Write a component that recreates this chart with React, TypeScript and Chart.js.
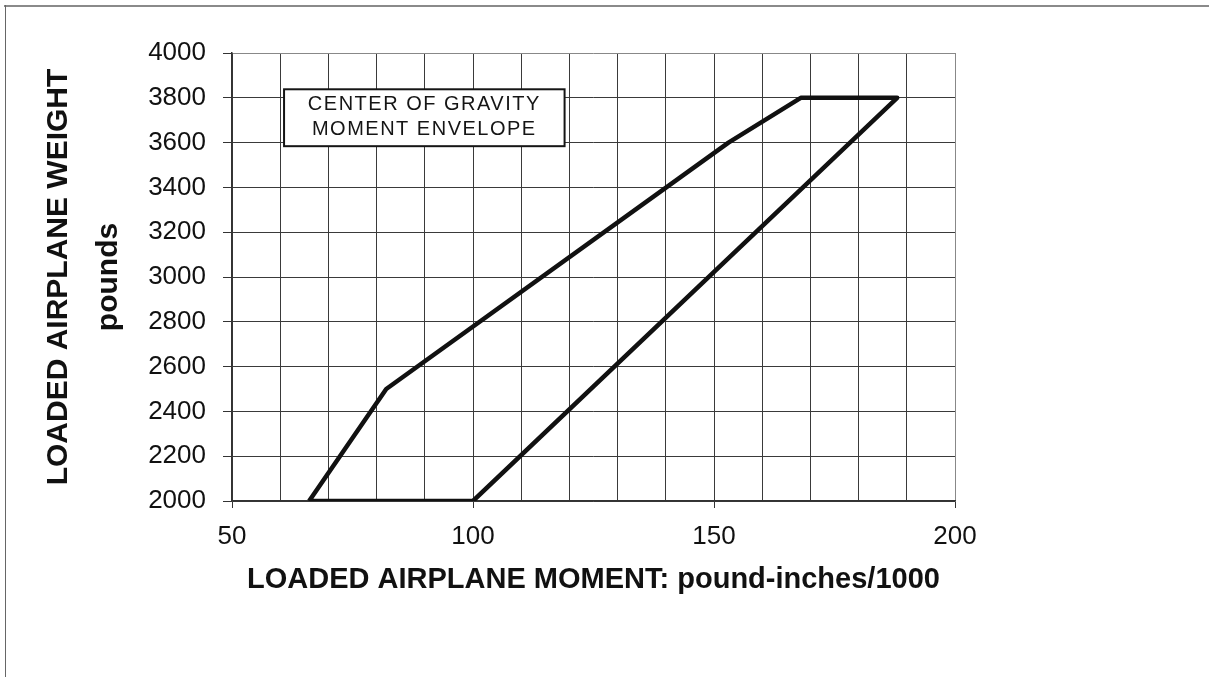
import React, { useEffect, useRef } from 'react';
import { Chart, registerables } from 'chart.js';

Chart.register(...registerables);

// ---- data ----
const envelopeMoment = [66, 82, 153, 168, 188, 100, 66];
const envelopeWeight = [2000, 2500, 3600, 3800, 3800, 2000, 2000];
const xLabelValues = [50, 100, 150, 200];
const yTickValues = [2000, 2200, 2400, 2600, 2800, 3000, 3200, 3400, 3600, 3800, 4000];
const noteLines = ['CENTER OF GRAVITY', 'MOMENT ENVELOPE'];
const xTitle = 'LOADED AIRPLANE MOMENT: pound-inches/1000';
const yTitle = ['LOADED AIRPLANE WEIGHT', 'pounds'];

const FONT = '"Liberation Sans", Arial, Helvetica, sans-serif';
const NOTE_BOX = { x0: 60.8, x1: 119, y0: 3838, y1: 3584 };

const notePlugin = {
  id: 'noteBox',
  afterDatasetsDraw(chart: any) {
    const { ctx, scales } = chart;
    const xs = scales.x;
    const ys = scales.y;
    const left = xs.getPixelForValue(NOTE_BOX.x0);
    const right = xs.getPixelForValue(NOTE_BOX.x1);
    const top = ys.getPixelForValue(NOTE_BOX.y0);
    const bottom = ys.getPixelForValue(NOTE_BOX.y1);
    ctx.save();
    ctx.fillStyle = '#ffffff';
    ctx.fillRect(left, top, right - left, bottom - top);
    ctx.strokeStyle = '#151515';
    ctx.lineWidth = 2;
    ctx.strokeRect(left, top, right - left, bottom - top);
    ctx.font = `20px ${FONT}`;
    try { (ctx as any).letterSpacing = '1.5px'; } catch (e) {}
    ctx.textAlign = 'center';
    ctx.textBaseline = 'middle';
    ctx.fillStyle = '#151515';
    const cx = (left + right) / 2;
    const h = bottom - top;
    const fr = [0.26, 0.7];
    noteLines.forEach((t, i) => ctx.fillText(t, cx, top + h * fr[i]));
    ctx.restore();
  },
};

export default function App() {
  const ref = useRef<HTMLCanvasElement | null>(null);

  useEffect(() => {
    if (!ref.current) return;
    const chart = new Chart(ref.current, {
      type: 'scatter',
      data: {
        datasets: [
          {
            data: envelopeMoment.map((m, i) => ({ x: m, y: envelopeWeight[i] })),
            showLine: true,
            borderColor: '#111111',
            borderWidth: 4.5,
            borderJoinStyle: 'round',
            pointRadius: 0,
            fill: false,
            tension: 0,
          } as any,
        ],
      },
      options: {
        responsive: false,
        animation: false,
        devicePixelRatio: 1,
        layout: { padding: { left: 0, top: 53, right: 254, bottom: 0 } },
        plugins: {
          legend: { display: false },
          tooltip: { enabled: false },
        },
        scales: {
          x: {
            type: 'linear',
            min: 50,
            max: 200,
            afterFit: (s: any) => { s.height = 176; },
            ticks: {
              stepSize: 10,
              autoSkip: false,
              maxRotation: 0,
              padding: 13,
              color: '#111',
              font: { family: FONT, size: 26 },
              callback: (v: any) => (xLabelValues.includes(Number(v)) ? String(v) : ''),
            },
            grid: {
              color: (c: any) => (c.tick && c.tick.value === 200 ? '#888' : '#3a3a3a'),
              lineWidth: 1,
              tickLength: 7,
              tickColor: (c: any) =>
                c.tick && xLabelValues.includes(c.tick.value) ? '#333' : 'rgba(0,0,0,0)',
            },
            border: { color: '#333', width: 1.5 },
            title: {
              display: true,
              text: xTitle,
              color: '#111',
              font: { family: FONT, size: 29, weight: 'bold' },
              padding: { top: 0, bottom: 80 },
            },
          },
          y: {
            type: 'linear',
            min: 2000,
            max: 4000,
            afterFit: (s: any) => { s.width = 232; },
            ticks: {
              stepSize: 200,
              padding: 17,
              color: '#111',
              font: { family: FONT, size: 26 },
              callback: (v: any) => (yTickValues.includes(Number(v)) ? String(v) : ''),
            },
            grid: {
              color: (c: any) => (c.tick && c.tick.value === 4000 ? '#888' : '#3a3a3a'),
              lineWidth: 1,
              tickLength: 9,
              tickColor: '#333',
            },
            border: { color: '#333', width: 1.5 },
            title: {
              display: true,
              text: yTitle,
              color: '#111',
              font: { family: FONT, size: 30, weight: 'bold', lineHeight: 1.667 },
              padding: { top: 34, bottom: 0 },
            },
          },
        },
      } as any,
      plugins: [notePlugin],
    });
    return () => chart.destroy();
  }, []);

  return (
    <div
      style={{
        position: 'fixed',
        left: 0,
        top: 0,
        width: 1209,
        height: 677,
        background: '#fff',
        overflow: 'hidden',
      }}
    >
      <canvas ref={ref} width={1209} height={677} style={{ position: 'absolute', left: 0, top: 0 }} />
      <div
        style={{
          position: 'absolute',
          left: 4,
          top: 5,
          width: 1205,
          height: 0,
          borderTop: '2px solid #8a8a8a',
        }}
      />
      <div
        style={{
          position: 'absolute',
          left: 5,
          top: 5,
          width: 0,
          height: 672,
          borderLeft: '1.5px solid #666',
        }}
      />
    </div>
  );
}
